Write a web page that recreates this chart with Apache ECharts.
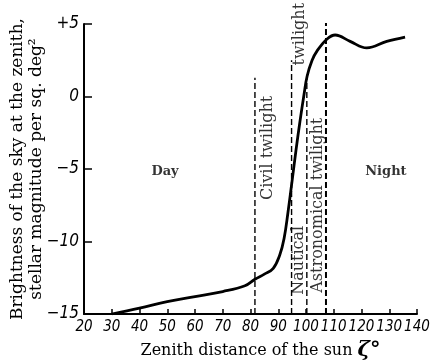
<!DOCTYPE html>
<html>
<head>
<meta charset="utf-8">
<script src="https://cdn.jsdelivr.net/npm/echarts@6/dist/echarts.min.js"></script>
<style>html,body{margin:0;padding:0;background:#fff;}#c{width:431px;height:362px;}</style>
</head>
<body>
<div id="c"></div>
<script>
// Curve: zenith distance of the sun (deg) vs sky brightness (stellar magnitude per sq. deg)
const zenith = [30, 40, 50, 60, 70, 78, 81.6, 85, 88.2, 90.6, 92.1, 93.5, 95.0, 96.4, 97.8, 99.3, 100.4, 102.2, 104.0, 107.6, 110.5, 115.9, 121.9, 129.1, 135.7];
const brightness = [-15, -14.6, -14.15, -13.8, -13.45, -13.05, -12.6, -12.25, -11.85, -10.9, -9.8, -8.0, -5.8, -3.7, -1.75, 0.15, 1.4, 2.5, 3.15, 3.97, 4.24, 3.8, 3.35, 3.8, 4.1];

// Twilight boundaries (dashed verticals): x position, top value
const boundaryX = [81.6, 94.8, 100.3, 107.2];
const boundaryTop = [1.3, 2.5, 1.5, 5.1];

// Axis ticks
const xTicks = [20, 30, 40, 50, 60, 70, 80, 90, 100, 110, 120, 130, 140];
const yTicks = [-15, -10, -5, 0, 5];

// Annotations: text, zenith, brightness
const noteText = ['Day', 'Night', 'Civil twilight', 'Nautical', 'twilight', 'Astronomical twilight'];
const noteX = [49.2, 128.8, 86.4, 97.6, 97.9, 104.1];
const noteY = [-5.2, -5.2, -3.55, -11.3, 4.3, -7.5];
const noteRot = [0, 0, 90, 90, 90, 90];

const serif = '"DejaVu Serif", "Liberation Serif", serif';
const tickFont = '"Liberation Sans Narrow", "DejaVu Sans Condensed", "Liberation Sans", sans-serif';
const chart = echarts.init(document.getElementById('c'), null, {renderer: 'canvas'});

const series = [{
  type: 'line',
  data: zenith.map((z, i) => [z, brightness[i]]),
  smooth: 0.4,
  showSymbol: false,
  lineStyle: {color: '#000', width: 2.8},
  z: 5
}];
boundaryX.forEach((bx, i) => {
  series.push({
    type: 'line',
    data: [[bx, yTicks[0]], [bx, boundaryTop[i]]],
    showSymbol: false,
    lineStyle: {color: '#000', width: i === 3 ? 2 : 1.4, type: [6, 3]},
    z: 3
  });
});
series.push({
  type: 'scatter',
  symbolSize: 0,
  silent: true,
  clip: false,
  z: 6,
  data: noteText.map((t, i) => ({
    value: [noteX[i], noteY[i]],
    name: t,
    label: {
      show: true,
      position: 'inside',
      formatter: '{b}',
      rotate: noteRot[i],
      color: '#000',
      fontFamily: serif,
      fontSize: noteRot[i] === 0 ? 13 : 16,
      fontWeight: noteRot[i] === 0 ? 'bold' : 'normal',
      align: 'center',
      verticalAlign: 'middle'
    }
  }))
});

chart.setOption({
  animation: false,
  backgroundColor: '#fff',
  grid: {left: 84, right: 14, top: 24, bottom: 48, containLabel: false, outerBoundsMode: 'none'},
  xAxis: {
    type: 'value',
    min: xTicks[0], max: xTicks[xTicks.length - 1], interval: 10,
    axisLine: {show: true, onZero: false, lineStyle: {color: '#000', width: 2}},
    axisTick: {show: true, inside: true, length: 5, lineStyle: {color: '#000', width: 1.5}},
    splitLine: {show: false},
    axisLabel: {color: '#000', fontFamily: tickFont, fontStyle: 'italic', fontSize: 15, margin: 6},
    name: 'Zenith distance of the sun {z|ζ°}',
    nameLocation: 'middle',
    nameGap: 26,
    nameMoveOverlap: false,
    nameTextStyle: {color: '#000', fontFamily: serif, fontSize: 16, padding: [0, 0, 0, 20],
      rich: {z: {fontFamily: serif, fontSize: 21, fontStyle: 'italic', fontWeight: 'bold', color: '#000'}}}
  },
  yAxis: {
    type: 'value',
    min: yTicks[0], max: yTicks[yTicks.length - 1], interval: 5,
    axisLine: {show: true, onZero: false, lineStyle: {color: '#000', width: 2}},
    axisTick: {show: true, inside: true, length: 8, lineStyle: {color: '#000', width: 1.5}},
    splitLine: {show: false},
    axisLabel: {color: '#000', fontFamily: tickFont, fontStyle: 'italic', fontSize: 17, margin: 5,
      formatter: v => v > 0 ? '+' + v : (v < 0 ? '\u2212' + Math.abs(v) : '0')},
    name: 'Brightness of the sky at the zenith,\nstellar magnitude per sq. deg\u00B2',
    nameLocation: 'middle',
    nameRotate: 90,
    nameGap: 38,
    nameMoveOverlap: false,
    nameTextStyle: {color: '#000', fontFamily: serif, fontSize: 17, lineHeight: 19, align: 'center'}
  },
  series: series
});
</script>
</body>
</html>
